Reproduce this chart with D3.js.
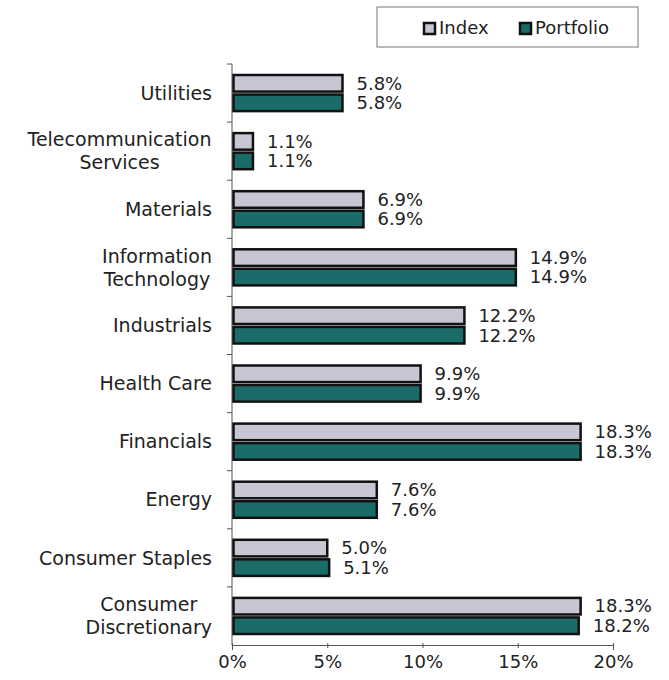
<!DOCTYPE html>
<html>
<head>
<meta charset="utf-8">
<script src="https://cdn.jsdelivr.net/npm/d3@7"></script>
<style>
  body { margin: 0; background: #fff; }
  text { font-family: "DejaVu Sans", sans-serif; fill: #222; }
</style>
</head>
<body>
<div id="chart"></div>
<script>
const categories = ["Utilities", "Telecommunication Services", "Materials", "Information Technology",
  "Industrials", "Health Care", "Financials", "Energy", "Consumer Staples", "Consumer Discretionary"];
const labelLines = [["Utilities"], ["Telecommunication", "Services"], ["Materials"], ["Information", "Technology"],
  ["Industrials"], ["Health Care"], ["Financials"], ["Energy"], ["Consumer Staples"], ["Consumer", "Discretionary"]];
const indexValues = [5.8, 1.1, 6.9, 14.9, 12.2, 9.9, 18.3, 7.6, 5.0, 18.3];
const portfolioValues = [5.8, 1.1, 6.9, 14.9, 12.2, 9.9, 18.3, 7.6, 5.1, 18.2];
const seriesNames = ["Index", "Portfolio"];
const xTicks = [0, 5, 10, 15, 20];

const indexColor = "#c8c6d5",
      portfolioColor = "#1b6b68";

const margin = {top: 64, left: 232};

const svg = d3.select("#chart")
  .append("svg")
    .attr("width", 669)
    .attr("height", 680);

const g = svg.append("g")
    .attr("transform", "translate(" + margin.left + "," + margin.top + ")");

const xScale = d3.scaleLinear()
  .domain([0, 20])
  .range([0, 381]);

const yScale = d3.scaleBand()
  .domain(categories)
  .range([0, 581]);

const inner = d3.scaleBand()
  .domain(seriesNames)
  .range([11, yScale.bandwidth() - 11])
  .paddingInner(0.15);

// y axis line + ticks at band edges
g.append("line")
  .attr("x1", 0).attr("x2", 0)
  .attr("y1", 0).attr("y2", 581)
  .attr("stroke", "#555").attr("stroke-width", 1);

g.selectAll(".ytick")
  .data(categories)
  .join("line")
    .attr("x1", -5).attr("x2", 0)
    .attr("y1", d => yScale(d)).attr("y2", d => yScale(d))
    .attr("stroke", "#555");

// x axis
const xAxis = g.append("g")
  .attr("transform", "translate(0,581)")
  .call(d3.axisBottom(xScale)
    .tickValues(xTicks)
    .tickSize(5)
    .tickFormat(d => d + "%"));
xAxis.select(".domain").attr("stroke", "#555");
xAxis.selectAll(".tick line").attr("stroke", "#555").attr("transform", "translate(0,-2)");
xAxis.selectAll(".tick text")
  .attr("y", 10)
  .attr("dy", "0.71em")
  .style("font-size", "18px")
  .attr("fill", "#222");

// category labels
categories.forEach((c, i) => {
  const lines = labelLines[i];
  const cy = yScale(c) + yScale.bandwidth() / 2;
  const t = g.append("text")
    .attr("text-anchor", "middle")
    .style("font-size", "19px");
  lines.forEach((l, j) => {
    t.append("tspan")
      .attr("x", 0)
      .attr("y", cy + (j - (lines.length - 1) / 2) * 23)
      .attr("dy", "0.35em")
      .text(l);
  });
  const w = t.node().getBBox().width;
  t.attr("transform", "translate(" + (-20 - w / 2) + ",0)");
});

// bars
const series = [
  {name: "Index", values: indexValues, color: indexColor},
  {name: "Portfolio", values: portfolioValues, color: portfolioColor}
];

series.forEach(s => {
  g.selectAll(".bar-" + s.name)
    .data(categories)
    .join("rect")
      .attr("x", 1.5)
      .attr("y", d => yScale(d) + inner(s.name))
      .attr("width", (d, i) => xScale(s.values[i]) - 1.5)
      .attr("height", inner.bandwidth())
      .attr("fill", s.color)
      .attr("stroke", "#111")
      .attr("stroke-width", 2.5);

  g.selectAll(".val-" + s.name)
    .data(categories)
    .join("text")
      .attr("x", (d, i) => xScale(s.values[i]) + 14)
      .attr("y", d => yScale(d) + inner(s.name) + inner.bandwidth() / 2)
      .attr("dy", "0.35em")
      .style("font-size", "18px")
      .text((d, i) => s.values[i].toFixed(1) + "%");
});

// legend
const legend = svg.append("g");
legend.append("rect")
  .attr("x", 377).attr("y", 7)
  .attr("width", 261).attr("height", 40)
  .attr("fill", "#fff")
  .attr("stroke", "#777")
  .attr("stroke-width", 1);

const legendX = [424, 520];
series.forEach((s, i) => {
  legend.append("rect")
    .attr("x", legendX[i]).attr("y", 23)
    .attr("width", 11).attr("height", 11)
    .attr("fill", s.color)
    .attr("stroke", "#111")
    .attr("stroke-width", 2.5);
  legend.append("text")
    .attr("x", legendX[i] + 15)
    .attr("y", 28)
    .attr("dy", "0.35em")
    .style("font-size", "18px")
    .text(s.name);
});
</script>
</body>
</html>
